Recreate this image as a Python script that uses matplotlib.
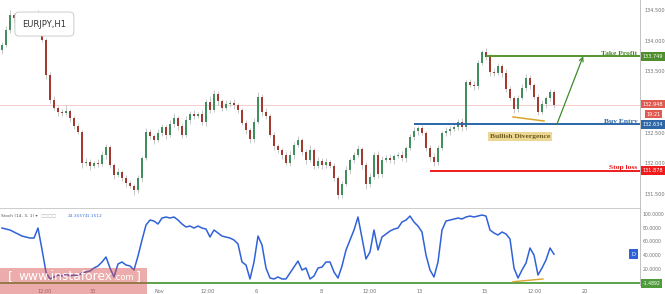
import matplotlib.pyplot as plt
import matplotlib.transforms as mtransforms
from matplotlib.patches import Rectangle
import numpy as np

# EURJPY H1 closes (one value per hourly candle)
closes = [
    133.933, 134.178, 134.423, 134.374, 134.342, 134.309, 134.260, 134.309, 134.342, 134.440,
    134.015, 133.443, 133.034, 132.904, 132.838, 132.822, 132.855, 132.740, 132.610, 132.511,
    132.005, 132.021, 131.956, 132.005, 131.989, 132.136, 132.266, 131.972, 131.809, 131.858,
    131.760, 131.678, 131.629, 131.564, 131.760, 132.087, 132.511, 132.446, 132.381, 132.495,
    132.593, 132.462, 132.642, 132.740, 132.610, 132.462, 132.708, 132.806, 132.773, 132.806,
    132.675, 133.002, 132.871, 133.132, 133.018, 132.904, 132.969, 132.985, 132.953, 132.871,
    132.659, 132.544, 132.397, 132.675, 133.083, 132.838, 132.773, 132.462, 132.283, 132.217,
    132.136, 132.005, 132.136, 132.299, 132.381, 132.185, 132.054, 132.217, 131.956, 132.038,
    131.972, 132.021, 131.956, 131.760, 131.482, 131.662, 131.891, 132.054, 132.136, 132.234,
    131.972, 131.662, 131.776, 132.136, 131.825, 132.054, 132.087, 132.054, 132.119, 132.136,
    132.087, 132.250, 132.430, 132.528, 132.577, 132.495, 132.250, 132.103, 132.021, 132.250,
    132.495, 132.528, 132.560, 132.593, 132.675, 132.593, 133.328, 133.279, 133.263, 133.639,
    133.819, 133.737, 133.492, 133.475, 133.590, 133.475, 133.214, 133.067, 132.887, 133.067,
    133.230, 133.394, 133.279, 133.083, 132.838, 132.969, 133.067, 133.165, 132.948,
]
first_open = 133.85

upper_wick = [
    0.05, 0.06, 0.08, 0.04, 0.05, 0.03, 0.06, 0.04, 0.05, 0.07,
    0.03, 0.04, 0.05, 0.06, 0.04, 0.05, 0.09, 0.03, 0.04, 0.05,
    0.04, 0.06, 0.05, 0.04, 0.07, 0.06, 0.05, 0.04, 0.03, 0.06,
    0.04, 0.05, 0.03, 0.04, 0.05, 0.04, 0.06, 0.05, 0.04, 0.07,
    0.05, 0.04, 0.06, 0.08, 0.04, 0.05, 0.06, 0.05, 0.07, 0.04,
    0.06, 0.05, 0.10, 0.06, 0.05, 0.04, 0.07, 0.05, 0.06, 0.04,
    0.03, 0.05, 0.04, 0.06, 0.08, 0.05, 0.06, 0.04, 0.05, 0.03,
    0.04, 0.05, 0.06, 0.05, 0.07, 0.04, 0.05, 0.08, 0.04, 0.06,
    0.05, 0.07, 0.04, 0.05, 0.04, 0.05, 0.06, 0.04, 0.05, 0.06,
    0.04, 0.05, 0.06, 0.05, 0.07, 0.06, 0.05, 0.06, 0.04, 0.05,
    0.06, 0.04, 0.05, 0.06, 0.04, 0.05, 0.04, 0.05, 0.06, 0.05,
    0.04, 0.06, 0.05, 0.04, 0.05, 0.06, 0.04, 0.05, 0.06, 0.05,
    0.04, 0.06, 0.05, 0.07, 0.05, 0.04, 0.06, 0.05, 0.04, 0.05,
    0.06, 0.07, 0.05, 0.04, 0.05, 0.06, 0.04, 0.05, 0.03,
]
lower_wick = [
    0.07, 0.04, 0.05, 0.06, 0.04, 0.05, 0.04, 0.06, 0.03, 0.05,
    0.04, 0.06, 0.05, 0.04, 0.07, 0.05, 0.04, 0.06, 0.05, 0.04,
    0.08, 0.05, 0.06, 0.04, 0.05, 0.04, 0.06, 0.05, 0.07, 0.04,
    0.05, 0.06, 0.04, 0.08, 0.05, 0.06, 0.04, 0.05, 0.06, 0.04,
    0.05, 0.06, 0.04, 0.05, 0.07, 0.05, 0.04, 0.06, 0.05, 0.04,
    0.05, 0.06, 0.05, 0.04, 0.06, 0.05, 0.04, 0.05, 0.06, 0.05,
    0.04, 0.06, 0.07, 0.05, 0.04, 0.06, 0.05, 0.04, 0.06, 0.05,
    0.07, 0.04, 0.05, 0.06, 0.04, 0.05, 0.06, 0.04, 0.05, 0.04,
    0.06, 0.05, 0.04, 0.05, 0.07, 0.05, 0.04, 0.06, 0.05, 0.04,
    0.06, 0.08, 0.05, 0.04, 0.06, 0.05, 0.04, 0.05, 0.06, 0.04,
    0.05, 0.06, 0.04, 0.05, 0.06, 0.04, 0.05, 0.06, 0.07, 0.05,
    0.04, 0.05, 0.06, 0.04, 0.05, 0.06, 0.05, 0.04, 0.06, 0.05,
    0.04, 0.05, 0.06, 0.05, 0.04, 0.06, 0.05, 0.04, 0.06, 0.05,
    0.04, 0.05, 0.06, 0.04, 0.05, 0.04, 0.06, 0.05, 0.04,
]

# Stochastic (14, 3, 1), one value per candle
stoch = [
    79.4, 77.9, 76.5, 73.6, 70.7, 67.7, 66.3, 64.8, 64.8, 79.4,
    48.0, 15.0, 5.0, 7.9, 10.8, 9.3, 12.3, 9.3, 10.8, 9.3,
    13.7, 15.2, 16.6, 21.0, 24.0, 29.8, 37.1, 21.0, 7.9, 26.9,
    29.8, 25.4, 24.0, 18.1, 38.5, 61.9, 83.8, 91.1, 89.6, 85.3,
    94.0, 95.5, 94.0, 95.5, 91.1, 85.3, 80.9, 82.3, 79.4, 82.3,
    79.4, 77.9, 66.3, 76.5, 72.1, 67.7, 66.3, 64.8, 61.9, 56.1,
    29.8, 25.4, 5.0, 29.8, 67.7, 54.6, 21.0, 6.4, 5.0, 7.9,
    5.0, 5.0, 13.7, 22.5, 31.2, 18.1, 21.0, 5.0, 9.3, 21.0,
    22.5, 29.8, 29.8, 15.2, 6.4, 24.0, 47.3, 61.9, 76.5, 95.5,
    64.8, 34.2, 44.4, 76.5, 47.3, 66.3, 70.7, 75.0, 77.9, 79.4,
    88.2, 91.1, 96.9, 88.2, 82.3, 73.6, 40.0, 18.1, 7.9, 29.8,
    76.5, 89.6, 91.1, 92.6, 94.0, 92.6, 95.5, 96.9, 95.5, 96.9,
    98.4, 96.9, 76.5, 72.1, 69.2, 73.6, 70.7, 63.4, 21.0, 6.4,
    18.1, 28.3, 50.2, 40.0, 10.8, 21.0, 32.7, 50.2, 41.2,
]

tick_pos = [10.75, 22.75, 39.25, 51.5, 63.5, 79.75, 92, 104.5, 120.75, 133.25, 145.75]
tick_labels = ['12:00', '30', 'Nov', '12:00', '6', '8', '12:00', '13', '15', '12:00', '20']

# 133.000 sits under the live-price tag, so it is not listed
price_ticks = [131.5, 132.0, 132.5, 133.5, 134.0, 134.5]
stoch_ticks = [20, 40, 60, 80, 100]

last_price = 132.948
take_profit = 133.749
buy_entry = 132.634
stop_loss = 131.878
stoch_min = -1.4892

# trade drawing anchors (candle index, value)
tp_start, be_start, sl_start = 121, 103, 107
arrow_from = (138.7, buy_entry)
arrow_to = (145.3, take_profit)
div_price = ([127.75, 135.5], [132.757, 132.691])
div_stoch = ([127.75, 135.25], [1.0, 5.0])

# ---------------------------------------------------------------
closes = np.array(closes)
opens = np.concatenate([[first_open], closes[:-1]])
highs = np.maximum(opens, closes) + np.array(upper_wick)
lows = np.minimum(opens, closes) - np.array(lower_wick)
x = np.arange(len(closes))

green, red = '#3f8f5f', '#a33a2f'
grey_txt = '#707070'

fig = plt.figure(figsize=(6.65, 2.94), dpi=100)
W, H = 665.0, 294.0
ax = fig.add_axes([0, 1 - 209 / H, 640 / W, 209 / H])
ax2 = fig.add_axes([0, 1 - 285 / H, 640 / W, 76 / H], sharex=ax)

# candles
ax.vlines(x, lows, highs, color='#c8c8c8', lw=0.7, zorder=1)
cols = [green if c >= o else red for o, c in zip(opens, closes)]
ax.bar(x, closes - opens, bottom=opens, width=0.55, color=cols, zorder=2)

ax.set_xlim(-0.5, 159.5)
ax.set_ylim(131.253, 134.668)

ax.axhline(last_price, color='#f4a6a6', lw=0.5, alpha=0.8, zorder=0.5)

ax.hlines(take_profit, tp_start, 159.5, color='#55952f', lw=1.4, zorder=3)
ax.hlines(buy_entry, be_start, 159.5, color='#2d67a8', lw=1.4, zorder=3)
ax.hlines(stop_loss, sl_start, 159.5, color='#ee1c1c', lw=1.4, zorder=3)
ax.plot(*div_price, color='#d9a52a', lw=1.1, zorder=3)
ax.annotate('', xy=arrow_to, xytext=arrow_from,
            arrowprops=dict(arrowstyle='->', color='#3f8a2a', lw=0.9,
                            mutation_scale=7, shrinkA=0, shrinkB=0), zorder=4)

serif = dict(family='Liberation Serif', weight='bold', fontsize=5.4)
bt = mtransforms.blended_transform_factory(ax.transAxes, ax.transData)
ax.text(0.996, take_profit + 0.012, 'Take Profit', color='#4b8a2a', ha='right', va='bottom',
        transform=bt, **serif)
ax.text(0.996, buy_entry + 0.012, 'Buy Entry', color='#2d67a8', ha='right', va='bottom',
        transform=bt, **serif)
ax.text(0.996, stop_loss + 0.012, 'Stop loss', color='#e81818', ha='right', va='bottom',
        transform=bt, **serif)
ax.text(129.6, 132.44, 'Bullish Divergence', color='#6e5a1e', ha='center', va='center',
        bbox=dict(boxstyle='square,pad=0.25', fc='#ecd793', ec='none'), **serif)

ax.text(0.035, 0.885, 'EURJPY,H1', transform=ax.transAxes, fontsize=6, color='#333333',
        va='center', ha='left',
        bbox=dict(boxstyle='round,pad=0.9,rounding_size=0.5', fc='white', ec='#c4c4c4', lw=0.6),
        zorder=6)

ax.yaxis.tick_right()
ax.set_yticks(price_ticks)
ax.set_yticklabels([f'{p:.3f}' for p in price_ticks])
ax.tick_params(axis='y', labelsize=3.6, colors=grey_txt, length=0, pad=3)
ax.tick_params(axis='x', bottom=False, labelbottom=False)
for s in ['top', 'left']:
    ax.spines[s].set_visible(False)
ax.spines['right'].set_color('#b8b8b8')
ax.spines['right'].set_linewidth(0.6)
ax.spines['bottom'].set_color('#c4c4c4')
ax.spines['bottom'].set_linewidth(1.2)

# price-axis tags
tag = dict(fontsize=3.6, color='white', ha='left', va='center', transform=bt, zorder=10,
           clip_on=False)
ax.text(1.004, take_profit, f'{take_profit:.3f}',
        bbox=dict(boxstyle='square,pad=0.4', fc='#4f8f2b', ec='none'), **tag)
ax.text(1.004, last_price + 0.015, f'{last_price:.3f}',
        bbox=dict(boxstyle='square,pad=0.3', fc='#e05a50', ec='none'), **tag)
ax.text(1.010, last_price - 0.15, '19:21',
        bbox=dict(boxstyle='square,pad=0.3', fc='#e05a50', ec='none'), **tag)
ax.text(1.004, buy_entry, f'{buy_entry:.3f}',
        bbox=dict(boxstyle='square,pad=0.4', fc='#2d67a8', ec='none'), **tag)
ax.text(1.004, stop_loss, f'{stop_loss:.3f}',
        bbox=dict(boxstyle='square,pad=0.4', fc='#ee1c1c', ec='none'), **tag)

# stochastic panel
ax2.plot(x, stoch, color='#2f62d8', lw=1.1, zorder=3)
ax2.axhline(stoch_min, color='#4f9a3a', lw=1.3, zorder=2)
ax2.plot(*div_stoch, color='#d9a52a', lw=1.0, zorder=4)
ax2.set_ylim(-3.8, 107.2)
ax2.yaxis.tick_right()
ax2.set_yticks(stoch_ticks)
ax2.set_yticklabels([f'{v:.4f}' for v in stoch_ticks])
ax2.tick_params(axis='y', labelsize=3.3, colors=grey_txt, length=0, pad=2)
ax2.set_xticks(tick_pos)
ax2.set_xticklabels(tick_labels)
ax2.tick_params(axis='x', labelsize=3.6, colors=grey_txt, length=0, pad=3)
for s in ['top', 'left', 'bottom']:
    ax2.spines[s].set_visible(False)
ax2.spines['right'].set_color('#b8b8b8')
ax2.spines['right'].set_linewidth(0.6)

bt2 = mtransforms.blended_transform_factory(ax2.transAxes, ax2.transData)
ax2.text(1.004, stoch_min, f'{stoch_min:.4f}', fontsize=3.3, color='white', ha='left',
         va='center', transform=bt2, clip_on=False, zorder=10,
         bbox=dict(boxstyle='square,pad=0.4', fc='#4f9a3a', ec='none'))
ax2.text(0.9935, stoch[-1], 'D', fontsize=3.8, color='white', ha='right', va='center',
         transform=bt2, clip_on=False, zorder=10,
         bbox=dict(boxstyle='square,pad=0.5', fc='#2f62d8', ec='none'))

lg = dict(transform=ax2.transAxes, va='center', fontsize=3.1)
ax2.text(0.002, 0.905, 'Stoch (14, 3, 1) \u25be', color='#555555', **lg)
ax2.text(0.064, 0.905, '\u25a1\u25a1\u25a1\u25a1', color='#b0b0b0', **lg)
ax2.text(0.105, 0.905, '24.3557', color='#3b78e0', **lg)
ax2.text(0.133, 0.905, '41.1512', color='#3b78e0', **lg)

# instaforex watermark
fig.patches.append(Rectangle((0, 0), 147 / W, 26 / H, transform=fig.transFigure,
                             fc='#d94848', ec='none', alpha=0.45, zorder=20))
wm = dict(color='white', va='center', zorder=21, family='DejaVu Sans')
fig.text(8 / W, 1 - 277 / H, '[', fontsize=9, **wm)
fig.text(18 / W, 1 - 277 / H, 'www.instaforex', fontsize=8.8, **wm)
fig.text(113 / W, 1 - 278 / H, '.com', fontsize=6, **wm)
fig.text(136 / W, 1 - 277 / H, ']', fontsize=9, **wm)

fig.savefig('out.png', dpi=100)
